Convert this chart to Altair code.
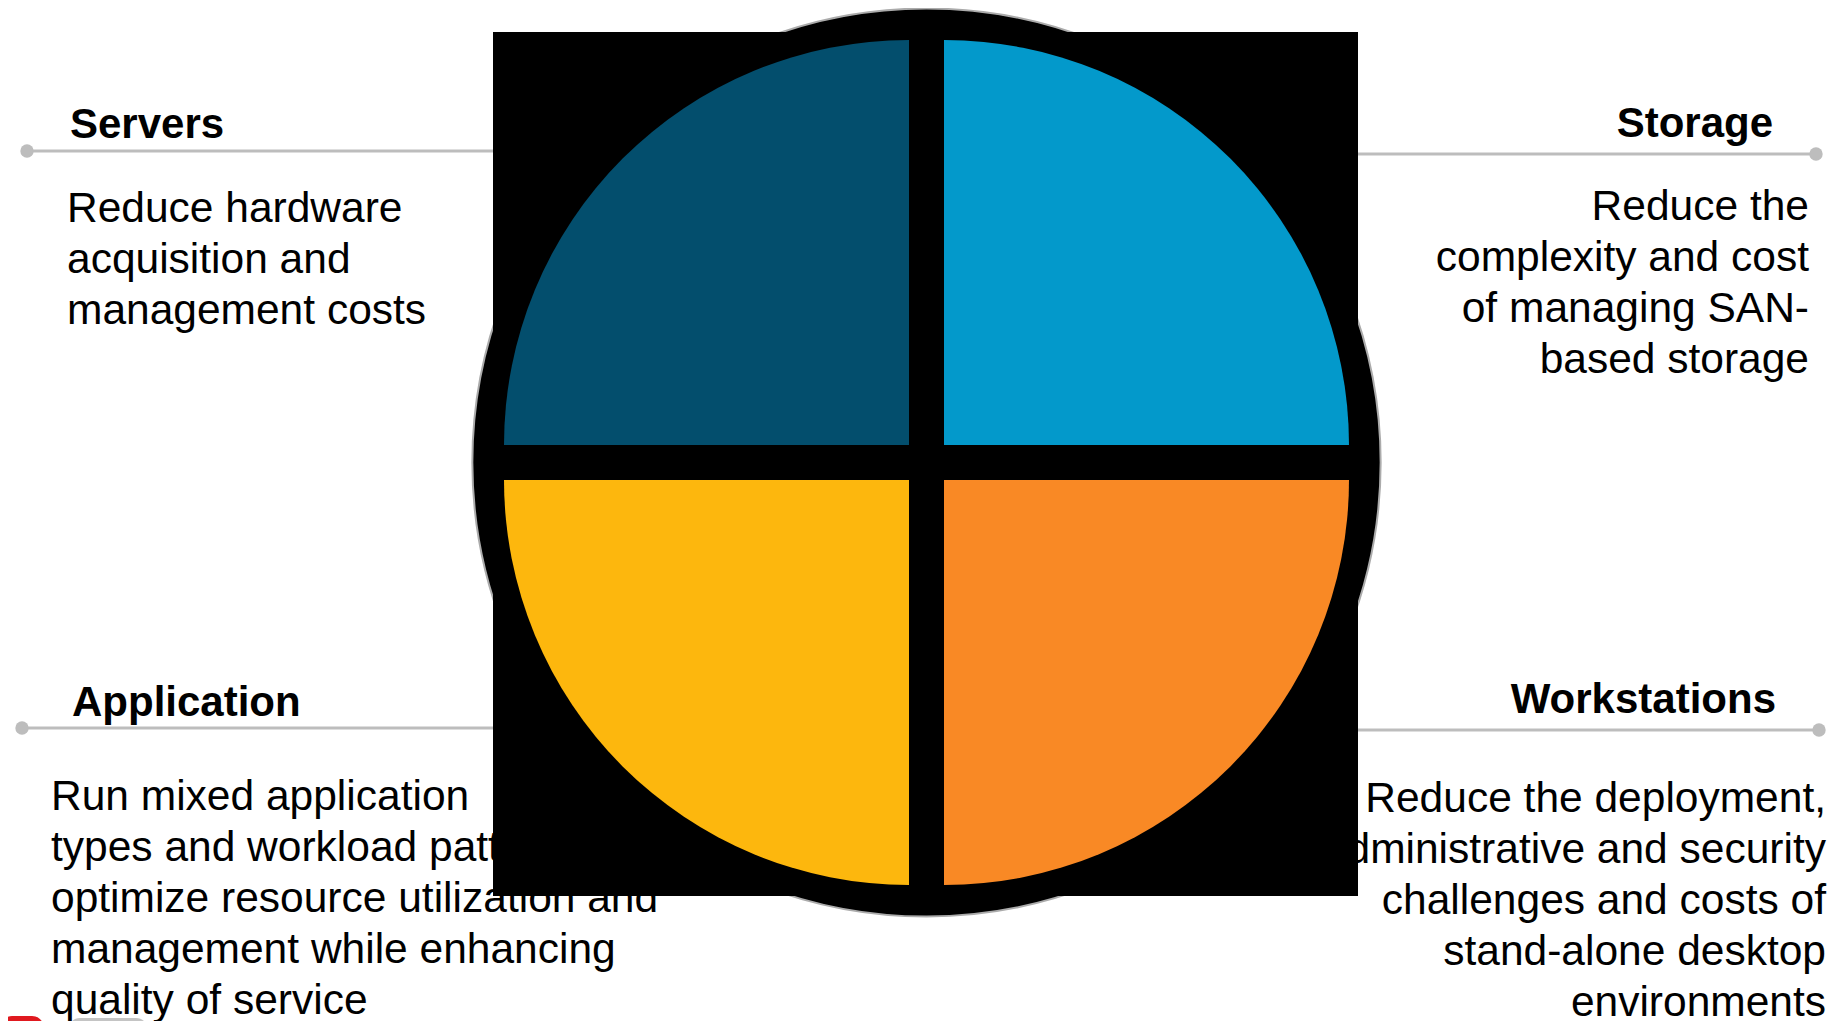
import math
import altair as alt
import pandas as pd

# ---------------- content ----------------
quadrant_names = ["Storage", "Workstations", "Application", "Servers"]  # clockwise from 12 o'clock
quadrant_shares = [25, 25, 25, 25]
quadrant_colors = ["#0399CB", "#F98925", "#FDB70D", "#034E6D"]

servers_lines = ["Reduce hardware", "acquisition and", "management costs"]
storage_lines = ["Reduce the", "complexity and cost", "of managing SAN-", "based storage"]
application_lines = [
    "Run mixed application",
    "types and workload patterns to",
    "optimize resource utilization and",
    "management while enhancing",
    "quality of service",
]
workstations_lines = [
    "Reduce the deployment,",
    "administrative and security",
    "challenges and costs of",
    "stand-alone desktop",
    "environments",
]

# ---------------- layout (page pixels) ----------------
W, H, M = 1827, 1013, 8
CX, CY = 926.5, 462.5
R_OUTER = 454
R_QUAD = 405
GAP = 35
RECT_X0, RECT_Y0, RECT_X1, RECT_Y1 = 493, 32, 1358, 896
PITCH = 51
FONT = "Liberation Sans, Arial, Helvetica, sans-serif"
GREY = "#BDBDBD"

panels = [
    dict(title="Servers", lines=servers_lines, align="left", tx=70, ty=138, bx=67, by=222, ly=151, dot=27, edge=RECT_X0),
    dict(title="Storage", lines=storage_lines, align="right", tx=1773, ty=137, bx=1809, by=220, ly=154, dot=1816, edge=RECT_X1),
    dict(title="Application", lines=application_lines, align="left", tx=72, ty=716, bx=51, by=810, ly=728, dot=22, edge=RECT_X0),
    dict(title="Workstations", lines=workstations_lines, align="right", tx=1776, ty=713, bx=1826, by=812, ly=730, dot=1819, edge=RECT_X1),
]

xs = alt.Scale(domain=[M, M + W], range=[0, W], nice=False, zero=False)
ys = alt.Scale(domain=[M, M + H], range=[0, H], nice=False, zero=False)


def X(f):
    return alt.X(f, scale=xs, axis=None, stack=None)


def Y(f):
    return alt.Y(f, scale=ys, axis=None, stack=None)


# ---------------- tables ----------------
titles = pd.DataFrame([dict(text=p["title"], x=p["tx"], y=p["ty"], align=p["align"]) for p in panels])
body = pd.DataFrame(
    [dict(text=t, x=p["bx"], y=p["by"] + i * PITCH, align=p["align"]) for p in panels for i, t in enumerate(p["lines"])]
)
connectors = pd.DataFrame([dict(x=min(p["dot"], p["edge"]), x2=max(p["dot"], p["edge"]), y=p["ly"], dx=p["dot"]) for p in panels])
center = pd.DataFrame([dict(x=CX, y=CY)])
rect = pd.DataFrame([dict(x=RECT_X0, x2=RECT_X1, y=RECT_Y0, y2=RECT_Y1)])
quads = pd.DataFrame(dict(category=quadrant_names, share=quadrant_shares, order=list(range(len(quadrant_names)))))
logos = pd.DataFrame(
    [
        dict(x=0, x2=44, y=1016, y2=1045, c="#E0191F"),
        dict(x=68, x2=148, y=1018, y2=1045, c="#C4C4C4"),
    ]
)

# ---------------- layers ----------------
rules = alt.Chart(connectors).mark_rule(color=GREY, strokeWidth=3).encode(x=X("x:Q"), x2="x2:Q", y=Y("y:Q"))
dots = alt.Chart(connectors).mark_circle(color=GREY, opacity=1, size=180).encode(x=X("dx:Q"), y=Y("y:Q"))


def text_layer(df, align, size, weight):
    return (
        alt.Chart(df[df["align"] == align])
        .mark_text(align=align, baseline="alphabetic", font=FONT, fontSize=size, fontWeight=weight, color="#000000")
        .encode(x=X("x:Q"), y=Y("y:Q"), text="text:N")
    )


t_left = text_layer(titles, "left", 42, "bold")
t_right = text_layer(titles, "right", 42, "bold")
b_left = text_layer(body, "left", 42.5, "normal")
b_right = text_layer(body, "right", 42.5, "normal")

outer = (
    alt.Chart(center)
    .mark_arc(theta=0, theta2=2 * math.pi, radius=R_OUTER, color="#000000", stroke="#ABABAB", strokeWidth=2)
    .encode(x=X("x:Q"), y=Y("y:Q"))
)

box = alt.Chart(rect).mark_rect(color="#000000").encode(x=X("x:Q"), x2="x2:Q", y=Y("y:Q"), y2="y2:Q")

half = GAP / 2
quad = (
    alt.Chart(quads)
    .transform_joinaggregate(total="sum(share)")
    .transform_window(cum="sum(share)", sort=[alt.SortField("order")], frame=[None, 0])
    .transform_calculate(
        t0="(datum.cum - datum.share) / datum.total",
        t1="datum.cum / datum.total",
        mid="(datum.cum - datum.share / 2) / datum.total * 2 * PI",
    )
    .transform_calculate(
        cx=f"{CX} + (sin(datum.mid) > 0 ? 1 : -1) * {half}",
        cy=f"{CY} + (cos(datum.mid) > 0 ? -1 : 1) * {half}",
    )
    .mark_arc(radius=R_QUAD)
    .encode(
        theta=alt.Theta("t0:Q", scale=alt.Scale(domain=[0, 1], range=[0, 2 * math.pi]), stack=None),
        theta2="t1:Q",
        color=alt.Color("category:N", scale=alt.Scale(domain=quadrant_names, range=quadrant_colors), legend=None),
        x=X("cx:Q"),
        y=Y("cy:Q"),
    )
)

logo = (
    alt.Chart(logos)
    .mark_rect(cornerRadius=12)
    .encode(
        x=X("x:Q"),
        x2="x2:Q",
        y=Y("y:Q"),
        y2="y2:Q",
        color=alt.Color("c:N", scale=None, legend=None),
    )
)

chart = (
    alt.layer(rules, dots, t_left, t_right, b_left, b_right, outer, box, quad, logo)
    .properties(width=W, height=H, padding=0, autosize="none", background="#FFFFFF")
    .configure_view(stroke=None)
)

chart.save("out.html", embed_options={"renderer": "svg", "actions": False})
